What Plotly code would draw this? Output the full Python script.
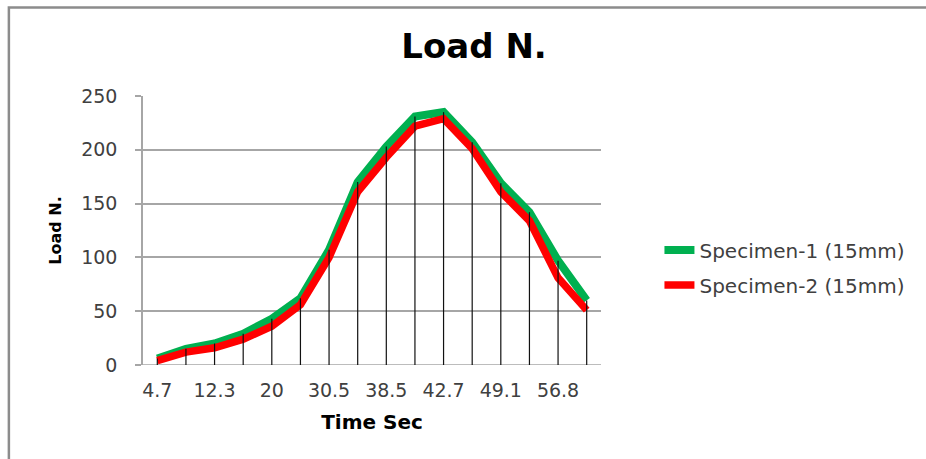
import plotly.graph_objects as go

# Time stamps (s) for each reading
time_sec = ["4.7", "8.6", "12.3", "16.1", "20", "25.2", "30.5", "34.6",
            "38.5", "40.6", "42.7", "45.9", "49.1", "52.9", "56.8", "60.5"]

# Load readings (N)
specimen_1 = [6, 15, 20, 29, 43, 62, 107, 170, 203, 231, 235, 207, 169, 142, 97, 60]
specimen_2 = [4, 12, 16, 24, 36, 56, 100, 161, 193, 222, 229, 201, 161, 134, 81, 51]

# y-axis ticks
load_ticks = [0, 50, 100, 150, 200, 250]

GREEN = "#00B050"
RED = "#FF0000"
TEXT = "#404040"
GRID = "#A6A6A6"

fig = go.Figure()

fig.add_trace(go.Scatter(
    x=time_sec, y=specimen_1, mode="lines",
    name="Specimen-1 (15mm)", legendgroup="s1",
    line=dict(color=GREEN, width=8),
))
fig.add_trace(go.Scatter(
    x=time_sec, y=specimen_2, mode="lines",
    name="Specimen-2 (15mm)", legendgroup="s2",
    line=dict(color=RED, width=7.5),
))

# Drop lines from the highest reading in each category down to the axis
drop_x, drop_y = [], []
for t, a, b in zip(time_sec, specimen_1, specimen_2):
    drop_x += [t, t, None]
    drop_y += [0, max(a, b), None]
fig.add_trace(go.Scatter(
    x=drop_x, y=drop_y, mode="lines", showlegend=False, hoverinfo="skip",
    line=dict(color="#111111", width=1.2),
))

# plot area in pixels: x 143..600.6, y 96..365
L, R, T, B = 143, 600.6, 96, 365
pw, ph = R - L, B - T

fig.update_layout(
    width=926, height=459,
    margin=dict(l=L, r=926 - R, t=T, b=459 - B),
    paper_bgcolor="white", plot_bgcolor="white",
    font=dict(family="DejaVu Sans", color=TEXT, size=19),
    title=dict(
        text="<b>Load N.</b>", x=474 / 926, xanchor="center",
        y=1 - 46 / 459, yanchor="middle",
        font=dict(family="DejaVu Sans", size=34, color="#000000"),
    ),
    xaxis=dict(
        type="category",
        range=[-0.5, len(time_sec) - 0.5],
        tickmode="array", tickvals=time_sec[::2], ticktext=time_sec[::2],
        showgrid=False, zeroline=False,
        showline=False, ticks="",
        tickfont=dict(size=19, color=TEXT),
        ticklabelstandoff=12,
        title=dict(text="<b>Time Sec</b>", standoff=14,
                   font=dict(size=20, color="#000000")),
    ),
    yaxis=dict(
        range=[0, 250], tickmode="array", tickvals=load_ticks,
        showgrid=True, gridcolor=GRID, gridwidth=1.5,
        zeroline=False,
        showline=True, linecolor=GRID, linewidth=1.5,
        ticks="outside", ticklen=6, tickcolor=GRID, tickwidth=1.5,
        tickfont=dict(size=19, color=TEXT),
        ticklabelstandoff=14,
        title=dict(text="<b>Load N.</b>", standoff=16,
                   font=dict(size=16, color="#000000")),
    ),
    legend=dict(
        x=(659 - L) / pw, xanchor="left",
        y=(B - 267.5) / ph, yanchor="middle",
        font=dict(size=20, color=TEXT),
        tracegroupgap=6, traceorder="grouped",
        bgcolor="rgba(0,0,0,0)",
    ),
    showlegend=True,
)

# baseline of the category axis
fig.add_shape(type="line", xref="paper", yref="y", x0=0, x1=1, y0=0, y1=0,
              line=dict(color=GRID, width=1.5), layer="below")

# outer frame
fig.add_shape(type="rect", xref="paper", yref="paper",
              x0=(9 - L) / pw, x1=(940 - L) / pw,
              y0=(B - 470) / ph, y1=(B - 7.5) / ph,
              line=dict(color="#8C8C8C", width=2.5), fillcolor="rgba(0,0,0,0)",
              layer="below")

fig.write_html("out.html")
